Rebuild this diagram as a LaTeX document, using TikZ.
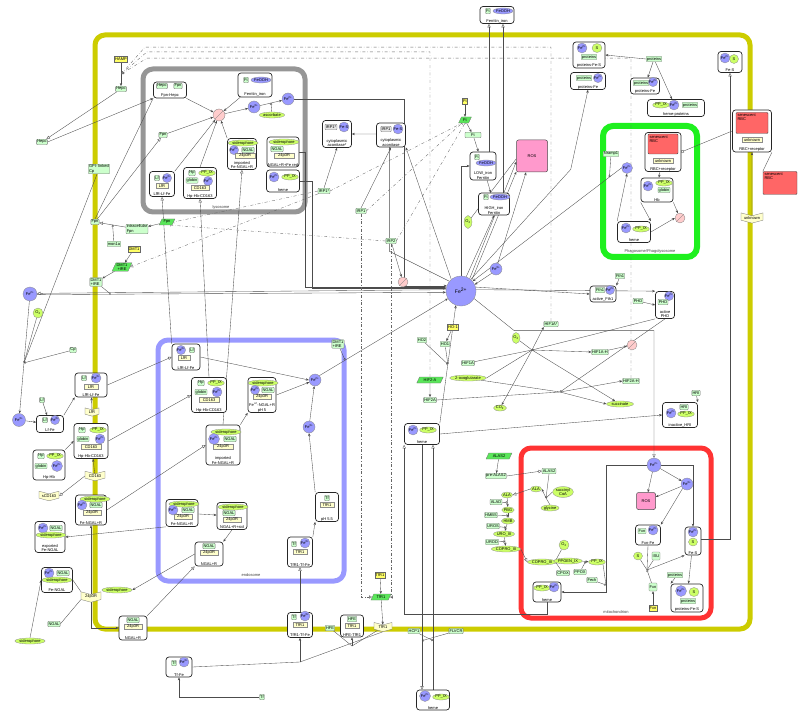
\documentclass[tikz,border=0pt]{standalone}
\usepackage{fontspec}
\setmainfont{Liberation Sans}
\usetikzlibrary{positioning, arrows.meta, shapes.geometric, shapes.symbols}
\definecolor{cellcol}{RGB}{204,204,0}
\definecolor{lysocol}{RGB}{150,150,150}
\definecolor{endocol}{RGB}{153,153,255}
\definecolor{phagocol}{RGB}{30,240,30}
\definecolor{mitocol}{RGB}{255,51,51}
\definecolor{protgreen}{RGB}{204,255,204}
\definecolor{geneyellow}{RGB}{255,255,102}
\definecolor{rnagreen}{RGB}{90,230,90}
\definecolor{recyellow}{RGB}{255,255,204}
\definecolor{ionblue}{RGB}{153,153,255}
\definecolor{simgreen}{RGB}{204,255,102}
\definecolor{degpink}{RGB}{255,204,204}
\definecolor{rospink}{RGB}{255,153,204}
\definecolor{rbcred}{RGB}{255,102,102}
\pgfdeclarelayer{bg}
\pgfdeclarelayer{edges}
\pgfsetlayers{bg,edges,main}

\begin{document}
\begin{tikzpicture}[
    x=1pt, y=-1pt,
    font=\fontsize{4}{4.4}\selectfont,
    comp/.style={line width=5pt, rounded corners=10pt},
    cname/.style={text=black!75},
    cplx/.style={draw=black!85, line width=0.7pt, rounded corners=3pt, fill=white, inner sep=0pt},
    clab/.style={anchor=south, inner sep=0.8pt, align=center},
    protein/.style={rectangle, draw=black!55, fill=protgreen, rounded corners=0.8pt, inner sep=0.7pt, minimum height=5.5pt, line width=0.3pt},
    gene/.style={rectangle, draw=black!60, fill=geneyellow, inner sep=0.8pt, minimum height=6.5pt, line width=0.3pt},
    rna/.style={trapezium, trapezium left angle=65, trapezium right angle=115, draw=black!55, fill=rnagreen, inner sep=0.6pt, minimum height=6pt, align=center, line width=0.3pt},
    receptor/.style={signal, signal from=north, signal to=south, signal pointer angle=150, draw=black!55, fill=recyellow, inner sep=0.7pt, minimum height=6.5pt, line width=0.3pt},
    recbox/.style={rectangle, draw=black!45, fill=recyellow, inner sep=0.6pt, minimum height=5pt, line width=0.3pt},
    ion/.style={circle, draw=black!45, fill=ionblue, inner sep=0pt, minimum size=10pt, line width=0.3pt},
    feooh/.style={ellipse, draw=black!45, fill=ionblue, inner sep=0.2pt, minimum height=6pt, line width=0.3pt},
    simple/.style={ellipse, draw=black!45, fill=simgreen, inner sep=0.2pt, minimum height=6pt, align=center, line width=0.3pt},
    degr/.style={circle, draw=black!50, fill=degpink, minimum size=12pt, inner sep=0pt, line width=0.3pt, path picture={\draw[black!55, line width=0.3pt] (path picture bounding box.south west) -- (path picture bounding box.north east);}},
    ros/.style={rectangle, rounded corners=2pt, draw=black!70, fill=rospink, line width=0.5pt},
    rbcbox/.style={rectangle, rounded corners=1pt, draw=black!70, fill=rbcred, inner sep=1.5pt, line width=0.4pt},
    rbctext/.style={anchor=north west, align=left, inner sep=1.5pt},
    arr/.style={-{Stealth[length=3pt, width=2.4pt]}, line width=0.35pt, draw=black!70},
    tr/.style={-{Triangle[open, length=3.5pt, width=3.2pt]}, line width=0.35pt, draw=black!70},
    sq/.style={-{Square[open, length=2.5pt, width=2.5pt]}, line width=0.35pt, draw=black!70},
    ln/.style={line width=0.35pt, draw=black!70},
    cat/.style={-{Circle[open, length=2.2pt]}, line width=0.35pt, draw=black!70},
    mod/.style={-{Triangle[open, length=3pt, width=3pt]}, line width=0.35pt, draw=black!60, dash dot},
    inh/.style={-{Bar[width=3pt]}, line width=0.35pt, draw=black!60, dash dot}
  ]
  \useasboundingbox (0,0) rectangle (800,719);

  \begin{pgfonlayer}{bg}
    \draw[comp, draw=cellcol] (95,35) rectangle (750,629);
    \draw[comp, draw=lysocol] (143,69) rectangle (305,212);
    \draw[comp, draw=endocol] (158,340) rectangle (344,581);
    \draw[comp, draw=phagocol, line width=6pt] (603,126) rectangle (697,257);
    \draw[comp, draw=mitocol] (521,448) rectangle (711,618);
  \end{pgfonlayer}
  \node[cname] (lysoName) at (221,207) {lysosome};
  \node[cname] (endoName) at (251,575) {endosome};
  \node[cname] (phagoName) at (650,251) {Phagosome/Phagolysosome};
  \node[cname] (mitoName) at (616,612) {mitochondrion};

  % outside, top
  \node[cplx, minimum width=34pt, minimum height=17pt, label={[clab]south:Ferritin\_iron}] (ftTop) at (497,15) {};
  \node[protein] (ftTopA) at (488,11) {Ft};
  \node[feooh] (ftTopB) at (503,11) {FeOOH};
  \node[gene] (hamp) at (121,59) {HAMP};
  \node[protein] (hepcIn) at (121,89) {Hepc};
  \node[protein] (hepcOut) at (42,142) {Hepc};

  % lysosome
  \node[cplx, minimum width=33pt, minimum height=16pt, label={[clab]south:Fpn-Hepc}] (fpnHepc) at (170,90) {};
  \node[protein] (fpnHepcA) at (162,86) {Hepc};
  \node[protein] (fpnHepcB) at (178,86) {Fpn};
  \node[cplx, minimum width=34pt, minimum height=24pt, label={[clab]south:Ferritin\_iron}] (ftLys) at (255,85) {};
  \node[protein] (ftLysA) at (246,80) {Ft};
  \node[feooh] (ftLysB) at (261,80) {FeOOH};
  \node[degr] (degL) at (219,115) {};
  \node[ion, minimum size=12pt] (fe3L) at (254,107) {Fe\textsuperscript{3+}};
  \node[ion, minimum size=12pt] (fe2L) at (288,99) {Fe\textsuperscript{2+}};
  \node[simple, minimum width=22pt] (ascL) at (272,115) {ascorbate};
  \node[protein] (fpnL) at (163,135) {Fpn};
  \node[cplx, minimum width=29pt, minimum height=31pt, label={[clab]south:{imported\\Fe-NGAL+R}}] (ngalL1) at (242,154) {};
  \node[simple, minimum width=24pt] (ngalL1A) at (243,143) {siderophore};
  \node[ion, minimum size=9pt] (ngalL1B) at (234,150) {Fe\textsuperscript{2+}};
  \node[protein] (ngalL1C) at (248,150) {NGAL};
  \node[recbox, minimum width=20pt] (ngalL1D) at (245,156) {24p3R};
  \node[cplx, minimum width=32pt, minimum height=30pt, label={[clab]south:NGAL+R+Fe red}] (ngalL2) at (283,152) {};
  \node[simple, minimum width=24pt] (ngalL2A) at (284,142) {siderophore};
  \node[protein] (ngalL2B) at (277,149) {NGAL};
  \node[recbox, minimum width=20pt] (ngalL2C) at (284,156) {24p3R};
  \node[cplx, minimum width=25pt, minimum height=25pt, label={[clab]south:LfR-Lf-Fe}] (lfL) at (162,184) {};
  \node[protein] (lfLA) at (157,178) {Lf};
  \node[ion, minimum size=9pt] (lfLB) at (167,178) {Fe\textsuperscript{3+}};
  \node[recbox, minimum width=12pt] (lfLC) at (162,186) {LfR};
  \node[cplx, minimum width=33pt, minimum height=31pt, label={[clab]south:Hp-Hb-CD163}] (hpL) at (200,183) {};
  \node[protein] (hpLA) at (192,173) {Hp};
  \node[simple, minimum width=13pt] (hpLB) at (207,173) {PP\_IX};
  \node[protein] (hpLC) at (192,180.5) {globin};
  \node[ion, minimum size=9pt] (hpLD) at (208,181) {Fe\textsuperscript{2+}};
  \node[recbox, minimum width=18pt] (hpLE) at (200,188) {CD163};
  \node[cplx, minimum width=33pt, minimum height=22pt, label={[clab]south:heme}] (hemeL) at (283,181) {};
  \node[ion] (hemeLA) at (274,177) {Fe\textsuperscript{2+}};
  \node[simple, minimum width=14pt] (hemeLB) at (290,177) {PP\_IX};

  % cell membrane, left
  \node[protein, align=left] (gpiCp) at (99,169) {GPI- linked\\Cp};
  \node[protein] (fpnM) at (95,222) {Fpn};
  \node[protein, align=left] (fpnI) at (137,229) {intracellular\\Fpn};
  \node[rna] (fpnR) at (167,222) {Fpn};
  \node[protein] (mon1a) at (114,244) {mon1a};
  \node[gene] (dmt1G) at (134,249) {DMT1};
  \node[rna] (dmt1R) at (122,267) {DMT1\\+IRE};
  \node[protein, align=left] (dmt1M) at (96,282) {DMT1\\+IRE};
  \node[ion, minimum size=14pt] (fe2Out) at (30,294) {Fe\textsuperscript{2+}};
  \node[simple, minimum width=10pt, minimum height=10pt] (o2a) at (38,313) {O\textsubscript{2}};
  \node[protein] (cp) at (73,350) {Cp};

  % cytosol, top
  \node[cplx, minimum width=29pt, minimum height=27pt, label={[clab]south:{cytoplasmic\\aconitase*}}] (acoS) at (337,134) {};
  \node[protein, fill=black!10] (acoSA) at (331,127) {IRP1*};
  \node[ion] (acoSB) at (344,127) {Fe-S};
  \node[cplx, minimum width=29pt, minimum height=24pt, label={[clab]south:{cytoplasmic\\aconitase}}] (aco) at (391,135) {};
  \node[protein, fill=black!10] (acoA) at (386,129) {IRP1};
  \node[ion] (acoB) at (398,129) {Fe-S};
  \node[gene] (ftG) at (465,101) {Ft};
  \node[rna] (ftR) at (465,120) {Ft};
  \node[protein, minimum width=16pt] (ftP) at (473,135) {Ft};
  \node[cplx, minimum width=26pt, minimum height=28pt, label={[clab]south:{LOW\_iron\\Ferritin}}] (ftLow) at (483,166) {};
  \node[protein] (ftLowA) at (477,157) {Ft};
  \node[feooh] (ftLowB) at (486,163) {FeOOH};
  \node[ros, minimum width=31pt, minimum height=32pt] (ros) at (532,156) {ROS};
  \node[cplx, minimum width=31pt, minimum height=22pt, label={[clab]south:{HIGH\_iron\\Ferritin}}] (ftHigh) at (494,204) {};
  \node[protein] (ftHighA) at (486,197) {Ft};
  \node[feooh] (ftHighB) at (500,197) {FeOOH};
  \node[simple, minimum width=7pt, minimum height=13pt] (o2b) at (468,222) {O\textsubscript{2}};
  \node[ion, minimum size=30pt, font=\fontsize{5}{5}\selectfont] (fe2Big) at (461,291) {Fe\textsuperscript{2+}};
  \node[ion, minimum size=12pt] (fe3C) at (496,269) {Fe\textsuperscript{3+}};
  \node[protein] (irp1s) at (324,191) {IRP1*};
  \node[protein] (irp1) at (361,211) {IRP1};
  \node[protein] (irp2) at (391,241) {IRP2};
  \node[degr, minimum size=10pt] (degI) at (403,282) {};

  % top right
  \node[cplx, minimum width=32pt, minimum height=26pt, label={[clab]south:proteins-Fe-S}] (protFeS) at (589,55) {};
  \node[ion] (protFeSA) at (582,48) {Fe\textsuperscript{2+}};
  \node[simple, minimum width=10pt, minimum height=9pt] (protFeSB) at (597,48) {S};
  \node[protein] (protFeSC) at (589,57) {proteins};
  \node[cplx, minimum width=35pt, minimum height=17pt, label={[clab]south:proteins-Fe}] (protFe) at (588,81) {};
  \node[protein] (protFeA) at (584,78) {proteins};
  \node[ion, minimum size=9pt] (protFeB) at (598,78) {Fe\textsuperscript{2+}};
  \node[protein] (prots) at (654,59) {proteins};
  \node[cplx, minimum width=29pt, minimum height=16pt, label={[clab]south:proteins-Fe}] (protFe2) at (645,86) {};
  \node[protein] (protFe2A) at (641,83) {proteins};
  \node[ion, minimum size=9pt] (protFe2B) at (653,82) {Fe\textsuperscript{2+}};
  \node[cplx, minimum width=57pt, minimum height=17pt, label={[clab]south:heme-proteins}] (hemeProt) at (676,108) {};
  \node[simple, minimum width=14pt] (hemeProtA) at (661,105) {PP\_IX};
  \node[ion] (hemeProtB) at (674,105) {Fe\textsuperscript{2+}};
  \node[protein] (hemeProtC) at (690,105) {proteins};
  \node[cplx, minimum width=24pt, minimum height=21pt, label={[clab]south:Fe-S}] (feS) at (730,62) {};
  \node[ion] (feSA) at (725,58) {Fe\textsuperscript{2+}};
  \node[simple, minimum width=9pt, minimum height=9pt] (feSB) at (734,59) {S};
  \node[cplx, minimum width=39pt, minimum height=42pt, label={[clab]south:RBC+receptor}] (rbcR) at (752,131) {};
  \node[rbcbox, minimum width=32pt, minimum height=21pt] (rbcRA) at (752,123) {};
  \node[rbctext] (rbcRT) at (rbcRA.north west) {senescent\\RBC};
  \node[recbox, minimum width=20pt] (rbcRB) at (752,140) {unknown};
  \node[rbcbox, minimum width=34pt, minimum height=23pt] (rbc) at (780,183) {};
  \node[rbctext] (rbcT) at (rbc.north west) {senescent\\RBC};
  \node[receptor, minimum width=22pt] (unk) at (752,218) {unknown};

  % phagosome
  \node[cplx, minimum width=36pt, minimum height=39pt, label={[clab]south:RBC+receptor}] (rbcP) at (663,152) {};
  \node[rbcbox, minimum width=30pt, minimum height=20pt] (rbcPA) at (663,144) {};
  \node[rbctext] (rbcPT) at (rbcPA.north west) {senescent\\RBC};
  \node[recbox, minimum width=20pt] (rbcPB) at (663,161) {unknown};
  \node[protein] (nramp) at (611,154) {Nramp1};
  \node[ion, minimum size=11pt] (fe2P) at (627,168) {Fe\textsuperscript{2+}};
  \node[cplx, minimum width=32pt, minimum height=24pt, label={[clab]south:Hb}] (hbP) at (657,190) {};
  \node[ion] (hbPA) at (648,186) {Fe\textsuperscript{2+}};
  \node[simple, minimum width=14pt] (hbPB) at (664,183) {PP\_IX};
  \node[protein] (hbPC) at (664,190) {globin};
  \node[degr, minimum size=10pt] (degP) at (680,218) {};
  \node[cplx, minimum width=33pt, minimum height=21pt, label={[clab]south:heme}] (hemeP) at (634,232) {};
  \node[ion] (hemePA) at (626,228) {Fe\textsuperscript{2+}};
  \node[simple, minimum width=15pt] (hemePB) at (641,229) {PP\_IX};

  % cytosol, right
  \node[protein] (fth1) at (620,276) {Fth1};
  \node[cplx, minimum width=26pt, minimum height=16pt, label={[clab]south:active\_Fth1}] (fth1A) at (603,294) {};
  \node[protein] (fth1AA) at (600,290) {Fth1};
  \node[ion, minimum size=9pt] (fth1AB) at (610,290) {Fe\textsuperscript{2+}};
  \node[protein] (phd) at (638,301) {PHD};
  \node[cplx, minimum width=19pt, minimum height=27pt, label={[clab]south:{active\\PHD}}] (phdA) at (665,305) {};
  \node[ion, minimum size=9pt] (phdAA) at (669,296) {Fe\textsuperscript{2+}};
  \node[protein] (phdAB) at (663,302) {PHD};
  \node[protein] (hif1s) at (551,324) {HIF1A*};
  \node[protein] (hif1h) at (600,352) {HIF1A-H};
  \node[degr, minimum size=10pt] (degH) at (632,345) {};
  \node[protein] (hif2h) at (631,381) {HIF2A-H};
  \node[simple, minimum width=27pt] (succ) at (620,404) {succinate};
  \node[protein] (hri) at (696,393) {HRI};
  \node[cplx, minimum width=35pt, minimum height=25pt, label={[clab]south:inactive\_HRI}] (hriI) at (680,415) {};
  \node[protein] (hriIA) at (684,407) {HRI};
  \node[ion] (hriIB) at (671,413) {Fe\textsuperscript{2+}};
  \node[simple, minimum width=14pt] (hriIC) at (686,414) {PP\_IX};

  % cytosol, middle
  \node[gene] (ho1g) at (453,327) {HO-1};
  \node[protein] (ho2) at (422,340) {HO2};
  \node[protein] (ho1) at (445,344) {HO1};
  \node[simple, minimum width=8pt, minimum height=11pt] (o2c) at (516,338) {O\textsubscript{2}};
  \node[protein, align=left] (dmt1E) at (338,344) {DMT1\\+IRE};
  \node[protein] (hif1) at (468,363) {HIF1A};
  \node[simple, minimum width=35pt] (oxo) at (468,378) {2-oxoglutarate};
  \node[simple, minimum width=13pt] (co2) at (500,408) {CO\textsubscript{2}};
  \node[rna] (hif2r) at (430,380) {HIF2-A};
  \node[protein] (hif2) at (430,400) {HIF2A};
  \node[cplx, minimum width=35pt, minimum height=21pt, label={[clab]south:heme}] (hemeC) at (422,434) {};
  \node[ion] (hemeCA) at (413,430) {Fe\textsuperscript{2+}};
  \node[simple, minimum width=15pt] (hemeCB) at (428,430) {PP\_IX};
  \node[rna] (alas2r) at (499,456) {ALAS2};
  \node[protein] (prealas) at (496,476) {pre-ALAS2};
  \node[simple] (ala) at (507,495) {ALA};
  \node[protein] (alad) at (496,502) {ALAD};
  \node[simple] (pbg) at (508,510) {PBG};
  \node[protein] (hmbs) at (491,515) {HMBS};
  \node[simple] (hmb) at (508,521) {HMB};
  \node[protein] (uros) at (493,526) {UROS};
  \node[simple] (uro) at (504,534) {URO\_III};
  \node[protein] (urod) at (492,542) {UROD};
  \node[simple] (copro) at (506,549) {COPRO\_III};

  % mitochondrion
  \node[protein] (alas2m) at (549,471) {ALAS2};
  \node[simple] (alaM) at (536,489) {ALA};
  \node[simple] (succoa) at (563,492) {succinyl\\CoA};
  \node[simple] (gly) at (550,508) {glycine};
  \node[ion, minimum size=14pt] (fe2M) at (654,465) {Fe\textsuperscript{2+}};
  \node[ion, minimum size=12pt] (fe3M) at (687,484) {Fe\textsuperscript{3+}};
  \node[ros, minimum width=19pt, minimum height=17pt] (rosM) at (646,501) {ROS};
  \node[cplx, minimum width=25pt, minimum height=20pt, label={[clab]south:Fxn-Fe}] (fxnFe) at (648,535) {};
  \node[protein] (fxnFeA) at (642,531) {Fxn};
  \node[ion] (fxnFeB) at (653,530) {Fe\textsuperscript{2+}};
  \node[cplx, minimum width=16pt, minimum height=28pt, label={[clab]south:Fe-S}] (feSM) at (693,541) {};
  \node[ion] (feSMA) at (693,532) {Fe\textsuperscript{2+}};
  \node[simple, minimum width=9pt, minimum height=8pt] (feSMB) at (693,542) {S};
  \node[simple, minimum width=10pt, minimum height=10pt] (o2M) at (564,545) {O\textsubscript{2}};
  \node[simple] (coproM) at (542,562) {COPRO\_III};
  \node[simple] (proto) at (568,561) {PPGEN\_IX};
  \node[simple] (ppix) at (597,562) {PP\_IX};
  \node[protein] (cpox) at (563,573) {CPOX};
  \node[protein] (ppox) at (580,572) {PPOX};
  \node[protein] (fech) at (592,580) {Fech};
  \node[cplx, minimum width=28pt, minimum height=20pt, label={[clab]south:heme}] (hemeM) at (547,592) {};
  \node[simple, minimum width=14pt] (hemeMA) at (542,588) {PP\_IX};
  \node[ion] (hemeMB) at (554,587) {Fe\textsuperscript{2+}};
  \node[simple, minimum width=9pt, minimum height=8pt] (sM) at (638,556) {S};
  \node[protein, minimum height=8pt] (isu) at (656,556) {ISU};
  \node[protein, minimum height=8pt] (fxn) at (653,587) {Fxn};
  \node[gene] (fxnG) at (653,608) {Fxn};
  \node[protein] (protM) at (675,575) {proteins};
  \node[cplx, minimum width=32pt, minimum height=28pt, label={[clab]south:proteins-Fe-S}] (protFeSM) at (687,598) {};
  \node[ion, minimum size=11pt] (protFeSMA) at (681,591) {Fe\textsuperscript{2+}};
  \node[simple, minimum width=10pt, minimum height=9pt] (protFeSMB) at (694,592) {S};
  \node[protein] (protFeSMC) at (688,601) {proteins};

  % outside, left
  \node[cplx, minimum width=32pt, minimum height=24pt, label={[clab]south:LfR-Lf-Fe}] (lfrM) at (91,385) {};
  \node[protein] (lfrMA) at (84,378) {Lf};
  \node[ion] (lfrMB) at (96,378) {Fe\textsuperscript{3+}};
  \node[recbox, minimum width=14pt] (lfrMC) at (91,387) {LfR};
  \node[protein] (lf) at (42,400) {Lf};
  \node[ion, minimum size=13pt] (fe3Out) at (19,420) {Fe\textsuperscript{3+}};
  \node[cplx, minimum width=27pt, minimum height=17pt, label={[clab]south:Lf-Fe}] (lfFe) at (50,424) {};
  \node[protein] (lfFeA) at (45,420) {Lf};
  \node[ion, minimum size=9pt] (lfFeB) at (55,420) {Fe\textsuperscript{3+}};
  \node[receptor, minimum width=14pt] (lfr) at (92,412) {LfR};
  \node[cplx, minimum width=34pt, minimum height=35pt, label={[clab]south:Hp-Hb-CD163}] (hpM) at (91,441) {};
  \node[protein] (hpMA) at (82,430) {Hp};
  \node[simple, minimum width=13pt] (hpMB) at (98,430) {PP\_IX};
  \node[protein] (hpMC) at (83,439) {globin};
  \node[ion] (hpMD) at (100,439) {Fe\textsuperscript{2+}};
  \node[recbox, minimum width=20pt] (hpME) at (91,447) {CD163};
  \node[cplx, minimum width=32pt, minimum height=30pt, label={[clab]south:Hp-Hb}] (hpHb) at (49,465) {};
  \node[protein] (hpHbA) at (41,456) {Hp};
  \node[simple, minimum width=13pt] (hpHbB) at (55,456) {PP\_IX};
  \node[protein] (hpHbC) at (41,466) {globin};
  \node[ion, minimum size=11pt] (hpHbD) at (57,466) {Fe\textsuperscript{2+}};
  \node[receptor, minimum width=20pt] (cd163) at (95,476) {CD163};
  \node[receptor, minimum width=20pt] (scd163) at (49,496) {sCD163};
  \node[cplx, minimum width=31pt, minimum height=30pt, label={[clab]south:Fe-NGAL+R}] (ngalM) at (91,510) {};
  \node[simple, minimum width=22pt] (ngalMA) at (95,499) {siderophore};
  \node[ion] (ngalMB) at (82,505) {Fe\textsuperscript{2+}};
  \node[protein] (ngalMC) at (96,505) {NGAL};
  \node[recbox, minimum width=18pt] (ngalMD) at (92,513) {24p3R};
  \node[cplx, minimum width=30pt, minimum height=31pt, label={[clab]south:{exported\\Fe-NGAL}}] (ngalEx) at (50,537) {};
  \node[ion] (ngalExA) at (43,528) {Fe\textsuperscript{2+}};
  \node[protein] (ngalExB) at (56,528) {NGAL};
  \node[simple, minimum width=22pt] (ngalExC) at (51,535) {siderophore};
  \node[cplx, minimum width=31pt, minimum height=25pt, label={[clab]south:Fe-NGAL}] (feNgal) at (57,580) {};
  \node[ion] (feNgalA) at (49,573) {Fe\textsuperscript{2+}};
  \node[protein] (feNgalB) at (63,573) {NGAL};
  \node[simple, minimum width=22pt] (feNgalC) at (57,580) {siderophore};
  \node[receptor, minimum width=20pt] (r24) at (91,597) {24p3R};
  \node[simple, minimum width=24pt] (sid1) at (117,590) {siderophore};
  \node[protein] (ngal) at (54,624) {NGAL};
  \node[simple, minimum width=26pt] (sid2) at (30,641) {siderophore};
  \node[cplx, minimum width=28pt, minimum height=24pt, label={[clab]south:NGAL+R}] (ngalRM) at (133,628) {};
  \node[protein] (ngalRMA) at (133,620) {NGAL};
  \node[recbox, minimum width=18pt] (ngalRMB) at (133,627) {24p3R};
  \node[cplx, minimum width=26pt, minimum height=20pt, label={[clab]south:Tf-Fe}] (tfFe) at (179,667) {};
  \node[protein] (tfFeA) at (174,663) {Tf};
  \node[ion] (tfFeB) at (184,662) {Fe\textsuperscript{3+}};
  \node[protein] (tf) at (262,697) {Tf};

  % endosome
  \node[cplx, minimum width=28pt, minimum height=26pt, label={[clab]south:LfR-Lf-Fe}] (lfrE) at (186,357) {};
  \node[ion, minimum size=9pt] (lfrEA) at (181,350) {Fe\textsuperscript{3+}};
  \node[protein] (lfrEB) at (192,350) {Lf};
  \node[recbox, minimum width=12pt] (lfrEC) at (184,358) {LfR};
  \node[cplx, minimum width=35pt, minimum height=35pt, label={[clab]south:Hp-Hb-CD163}] (hpE) at (209,395) {};
  \node[protein] (hpEA) at (201,383) {Hp};
  \node[simple, minimum width=13pt] (hpEB) at (216,383) {PP\_IX};
  \node[protein] (hpEC) at (201,392) {globin};
  \node[ion] (hpED) at (217,392) {Fe\textsuperscript{2+}};
  \node[recbox, minimum width=20pt] (hpEE) at (209,400) {CD163};
  \node[cplx, minimum width=28pt, minimum height=35pt, label={[clab]south:{Fe\textsuperscript{+2}-NGAL+R\\pH 5}}] (ngalE1) at (262,395) {};
  \node[simple, minimum width=22pt] (ngalE1A) at (263,383) {siderophore};
  \node[ion, minimum size=9pt] (ngalE1B) at (255,390) {Fe\textsuperscript{2+}};
  \node[protein] (ngalE1C) at (268,390) {NGAL};
  \node[recbox, minimum width=18pt] (ngalE1D) at (262,397) {24p3R};
  \node[cplx, minimum width=34pt, minimum height=40pt, label={[clab]south:{imported\\Fe-NGAL+R}}] (ngalE2) at (223,445) {};
  \node[simple, minimum width=24pt] (ngalE2A) at (226,432) {siderophore};
  \node[ion, minimum size=11pt] (ngalE2B) at (214,439) {Fe\textsuperscript{2+}};
  \node[protein] (ngalE2C) at (230,439) {NGAL};
  \node[recbox, minimum width=20pt] (ngalE2D) at (223,447) {24p3R};
  \node[cplx, minimum width=32pt, minimum height=27pt, label={[clab]south:Fe-NGAL+R}] (ngalE3) at (182,513) {};
  \node[simple, minimum width=24pt] (ngalE3A) at (184,504) {siderophore};
  \node[ion] (ngalE3B) at (173,510) {Fe\textsuperscript{2+}};
  \node[protein] (ngalE3C) at (188,510) {NGAL};
  \node[recbox, minimum width=18pt] (ngalE3D) at (183,517) {24p3R};
  \node[cplx, minimum width=30pt, minimum height=27pt, label={[clab]south:NGAL+R+sid}] (ngalE4) at (232,516) {};
  \node[simple, minimum width=22pt] (ngalE4A) at (233,507) {siderophore};
  \node[protein] (ngalE4B) at (229,513) {NGAL};
  \node[recbox, minimum width=18pt] (ngalE4C) at (232,520) {24p3R};
  \node[cplx, minimum width=28pt, minimum height=24pt, label={[clab]south:NGAL+R}] (ngalRE) at (209,554) {};
  \node[protein] (ngalREA) at (209,546) {NGAL};
  \node[recbox, minimum width=18pt] (ngalREB) at (209,553) {24p3R};
  \node[ion, minimum size=12pt] (fe2E) at (315,380) {Fe\textsuperscript{2+}};
  \node[ion, minimum size=12pt] (fe3E) at (309,427) {Fe\textsuperscript{3+}};
  \node[cplx, minimum width=23pt, minimum height=29pt, label={[clab]south:pH 5.5}] (tfrPH) at (327,507) {};
  \node[protein] (tfrPHA) at (327,498) {Tf};
  \node[recbox, minimum width=14pt] (tfrPHB) at (327,505) {TfR1};
  \node[cplx, minimum width=25pt, minimum height=30pt, label={[clab]south:TfR1-Tf-Fe}] (tfrE) at (300,552) {};
  \node[protein] (tfrEA) at (294,544) {Tf};
  \node[ion] (tfrEB) at (305,543) {Fe\textsuperscript{3+}};
  \node[recbox, minimum width=14pt] (tfrEC) at (300,552) {TfR1};

  % cell membrane, bottom
  \node[cplx, minimum width=25pt, minimum height=25pt, label={[clab]south:TfR1-Tf-Fe}] (tfrM) at (300,625) {};
  \node[protein] (tfrMA) at (294,617) {Tf};
  \node[ion] (tfrMB) at (305,616) {Fe\textsuperscript{3+}};
  \node[recbox, minimum width=14pt] (tfrMC) at (300,625) {TfR1};
  \node[protein] (hfe) at (330,628) {HFE};
  \node[cplx, minimum width=23pt, minimum height=22pt, label={[clab]south:HFE-TfR1}] (hfeTfr) at (352,626) {};
  \node[protein] (hfeTfrA) at (352,619) {HFE};
  \node[recbox, minimum width=14pt] (hfeTfrB) at (352,626) {TfR1};
  \node[receptor, minimum width=18pt] (tfr1M) at (383,627) {TfR1};
  \node[gene] (tfr1G) at (380,575) {TfR1};
  \node[rna] (tfr1R) at (381,597) {TfR1};
  \node[protein] (hcp1) at (414,631) {HCP1};
  \node[protein] (flvcr) at (456,631) {FLVCR};
  \node[cplx, minimum width=33pt, minimum height=20pt, label={[clab]south:heme}] (hemeOut) at (433,700) {};
  \node[ion, minimum size=11pt] (hemeOutA) at (425,696) {Fe\textsuperscript{2+}};
  \node[simple, minimum width=15pt] (hemeOutB) at (441,697) {PP\_IX};

  \begin{pgfonlayer}{edges}
    % hepcidin
    \draw[arr] (hamp) -- (hepcIn);
    \path (hamp) -- (hepcIn) coordinate[midway] (rHamp);
    \draw[tr] (hepcIn) -- (hepcOut);
    \draw[arr] (hepcOut.east) -- (fpnHepc.south west);
    \draw[ln] (fpnM.north) -- (fpnHepc.south west);
    \draw[mod] (hif1s.north) -- ++(0,-274) -- ++(-406,0) -- (rHamp);
    \draw[mod] (hif2r.north) -- ++(0,-325) -- ++(-283,0) -- (rHamp);
    \draw[mod] (hif2h.north) -- ++(0,-320) -- ++(-484,0) -- (rHamp);

    % lysosome
    \draw[arr] (fpnHepc) -- (degL);
    \draw[arr] (ftLys) -- (degL);
    \draw[arr] (fpnL) -- (degL);
    \draw[arr] (lfL.north east) -- (degL);
    \draw[arr] (hpL.north) -- (degL);
    \draw[arr] (ngalL1.north west) -- (degL);
    \draw[arr] (degL) -- (fe3L);
    \draw[arr] (fe3L) -- (fe2L);
    \path (fe3L) -- (fe2L) coordinate[midway] (rAsc);
    \draw[cat] (ascL) -- (rAsc);
    \draw[tr] (fpnM) -- (fpnL);
    \draw[tr] (lfrE.north west) -- (lfL.south);
    \draw[tr] (hpE.north) -- (hpL.south);
    \draw[tr] (ngalE2.north) -- (ngalL1.south);
    \draw[arr] (fe2L.east) -- ++(110,0) |- (fe2Big.160);
    \draw[arr] (hemeL.east) -- ++(12,0) |- (fe2Big.170);
    \draw[arr] (ngalL2.east) -- ++(6,0) |- (fe2Big.165);

    % membrane transport
    \draw[arr] (fpnR) -- (fpnI);
    \draw[tr] (fpnI) -- (fpnM);
    \path (fpnI) -- (fpnM) coordinate[midway] (rFpn);
    \draw[cat] (mon1a) -- (rFpn);
    \draw[arr] (dmt1G) -- (dmt1R);
    \draw[arr] (dmt1R) -- (dmt1M);
    \draw[tr] (fe2Big.175) -- (fe2Out.5);
    \draw[arr] (fe2Out.-5) -- (fe2Big.185);
    \path (fe2Out.-5) -- (fe2Big.185) coordinate[pos=0.18] (rDmt);
    \draw[cat] (dmt1M) -- (rDmt);
    \draw[arr] (fe2Out) -- (fe3Out);
    \path (fe2Out) -- (fe3Out) coordinate[pos=0.55] (rCp);
    \draw[cat] (cp) -- (rCp);
    \draw[cat] (gpiCp) -- (rCp);
    \draw[ln] (o2a) -- (rCp);

    % lactoferrin, haptoglobin
    \draw[arr] (fe3Out) -- (lfFe);
    \draw[arr] (lf) -- (lfFe);
    \draw[arr] (lfFe.north east) -- (lfrM.south west);
    \draw[arr] (lfr) -- (lfrM);
    \draw[tr] (lfrM.east) -- (lfrE.west);
    \draw[arr] (hpHb.north east) -- (hpM.west);
    \draw[arr] (cd163) -- (hpM);
    \draw[tr] (cd163.west) -- (scd163.east);
    \draw[tr] (hpM.east) -- (hpE.west);

    % NGAL
    \draw[tr] (ngalM.east) -- (ngalE2.west);
    \draw[arr] (ngalE3.south west) -- (ngalEx.east);
    \draw[ln] (feNgal.east) -- (r24.north west);
    \draw[arr] (r24.north) -- (ngalM.south);
    \draw[arr] (r24.south) |- (ngalRM.west);
    \draw[ln] (ngal.east) -- (r24.south west);
    \draw[arr] (sid2.north) -- (feNgal.west);
    \draw[tr] (ngalRM.north east) -- (ngalRE.south west);
    \draw[arr] (ngalRE.west) -- (sid1.east);
    \draw[arr] (ngalE2.north east) -- (ngalE1.south west);
    \draw[arr] (ngalE1.east) -- (fe2E);
    \draw[arr] (lfrE.east) -- (fe2E.west);
    \draw[arr] (ngalE3) -- (ngalE4);
    \draw[arr] (ngalE4.south) -- (ngalRE.north east);

    % transferrin
    \draw[arr] (tf.west) -| (tfFe.south);
    \coordinate (rTf) at (300,662);
    \draw[ln] (tfFe.east) -- (rTf);
    \draw[ln] (tfr1M.south) -- (rTf);
    \draw[arr] (rTf) -- (tfrM.south);
    \draw[tr] (tfrM.north) -- (tfrE.south);
    \draw[arr] (tfrE.north east) -- (tfrPH.south west);
    \draw[arr] (tfrPH.north west) -- (fe3E.south);
    \draw[arr] (fe3E) -- (fe2E);
    \draw[arr] (fe2E.north east) -- (fe2Big.210);
    \path (fe2E.north east) -- (fe2Big.210) coordinate[pos=0.2] (rDmtE);
    \draw[cat] (dmt1E) -- (rDmtE);
    \draw[arr] (tfr1G) -- (tfr1R);
    \draw[arr] (tfr1R) -- (tfr1M);
    \coordinate (rHfe) at (352,646);
    \draw[ln] (hfe) -- (rHfe);
    \draw[ln] (tfr1M) -- (rHfe);
    \draw[arr] (rHfe) -- (hfeTfr.south);

    % heme transport and breakdown
    \coordinate (hcIn) at ([xshift=11pt]hemeC.south);
    \draw[tr] (hemeC.south) -- (hemeC.south |- hemeOut.north);
    \draw[tr] (hcIn |- hemeOut.north) -- (hcIn);
    \path (hemeC.south) -- (hemeC.south |- hemeOut.north) coordinate[pos=0.8] (rFlv);
    \draw[cat] (flvcr) -- (rFlv);
    \path (hcIn |- hemeOut.north) -- (hcIn) coordinate[pos=0.2] (rHcp);
    \draw[cat] (hcp1) -- (rHcp);
    \draw[arr] (hemeC.north east) -- (fe2Big.250);
    \path (hemeC.north east) -- (fe2Big.250) coordinate[midway] (rHo);
    \draw[cat] (ho1) -- (rHo);
    \draw[cat] (ho2) -- (rHo);
    \draw[arr] (ho1g) -- (ho1);
    \draw[arr] (hemeC.east) -- (hriI.west);
    \draw[arr] (hri) -- (hriI.north east);

    % HIF
    \coordinate (rHif1) at (532,350);
    \draw[ln] (hif1) -- (rHif1);
    \draw[ln] (oxo.east) -- (rHif1);
    \draw[ln] (o2c) -- (rHif1);
    \draw[arr] (rHif1) -- (hif1h.west);
    \draw[arr] (rHif1) -- (succ);
    \draw[arr] (rHif1) -- (co2);
    \draw[arr] (rHif1) -- (hif1s.south west);
    \draw[cat] (phdA.south west) -- (rHif1);
    \draw[arr] (hif1h) -- (degH);
    \draw[arr] (hif2r) -- (hif2);
    \coordinate (rHif2) at (560,392);
    \draw[ln] (hif2.east) -- (rHif2);
    \draw[ln] (oxo.south east) -- (rHif2);
    \draw[arr] (rHif2) -- (hif2h.west);
    \draw[arr] (rHif2) -- (succ.west);
    \draw[cat] (phdA.south) -- (rHif2);
    \draw[arr] (phd) -- (phdA.west);
    \draw[arr] (fe2Big.5) -- (phdA.north west);
    \draw[arr] (fth1) -- (fth1A.north east);
    \draw[arr] (fe2Big.15) -- (fth1A.west);
    \draw[tr] (fe2Big.-30) -- ++(40,32) -| (fe2M.north);

    % ferritin, ROS
    \draw[arr] (ftG) -- (ftR);
    \draw[arr] (ftR) -- (ftP);
    \draw[arr] (ftP) -- (ftLow);
    \draw[arr] (ftLow) -- (ftHigh);
    \coordinate (ftLowTop) at ([xshift=6pt]ftLow.north);
    \coordinate (ftHighTop) at ([xshift=9pt]ftHigh.north);
    \draw[tr] (ftLowTop) -- (ftLowTop |- ftTop.south);
    \draw[tr] (ftHighTop) -- (ftHighTop |- ftTop.south);
    \draw[arr] (fe2Big.north) |- (ftLow.west);
    \draw[arr] (fe2Big.70) -- (ftHigh.south);
    \draw[arr] (fe2Big.55) -- (ros.200);
    \draw[arr] (fe2Big.45) -- (ros.225);
    \draw[arr] (fe3C) -- (ros.250);
    \draw[arr] (fe3C.south west) -- (fe2Big.25);
    \draw[ln] (o2b) -- (ros.190);

    % IRPs
    \draw[arr] (irp1s.north) -- (acoS.south);
    \draw[arr] (irp1.north) -- (aco.south);
    \draw[arr] (fe2Big.130) -- (aco.south east);
    \draw[arr] (fe2Big.140) -- ++(-60,-30) |- (acoS.east);
    \draw[arr] (irp2) -- (degI);
    \draw[inh] (irp1s.east) -- (ftR.south west);
    \draw[inh] (irp1.east) -- (ftR.south west);
    \draw[inh] (irp2.east) -- (ftR.south);
    \draw[inh] (irp1s.west) -- (fpnR.east);
    \draw[inh] (irp2.west) -- (fpnR.south east);
    \draw[mod] (irp1.south) |- (tfr1R.west);
    \draw[mod] (irp2.south) |- (tfr1R.east);
    \draw[mod] (irp1s.south west) -- (dmt1R.east);

    % heme synthesis
    \draw[arr] (alas2r) -- (prealas);
    \draw[tr] (prealas.east) -- (alas2m.west);
    \coordinate (rAla) at (546,498);
    \draw[ln] (succoa.west) -- (rAla);
    \draw[ln] (gly.north) -- (rAla);
    \draw[arr] (rAla) -- (alaM.east);
    \draw[cat] (alas2m.south) -- (rAla);
    \draw[tr] (alaM.west) -- (ala.east);
    \draw[arr] (ala) -- (pbg);
    \path (ala) -- (pbg) coordinate[midway] (rAlad);
    \draw[cat] (alad) -- (rAlad);
    \draw[arr] (pbg) -- (hmb);
    \path (pbg) -- (hmb) coordinate[midway] (rHmbs);
    \draw[cat] (hmbs) -- (rHmbs);
    \draw[arr] (hmb) -- (uro);
    \path (hmb) -- (uro) coordinate[midway] (rUros);
    \draw[cat] (uros) -- (rUros);
    \draw[arr] (uro) -- (copro);
    \path (uro) -- (copro) coordinate[midway] (rUrod);
    \draw[cat] (urod) -- (rUrod);
    \draw[tr] (copro.east) -- (coproM.west);
    \draw[arr] (coproM) -- (proto);
    \path (coproM) -- (proto) coordinate[midway] (rCpox);
    \draw[cat] (cpox) -- (rCpox);
    \draw[ln] (o2M) -- (rCpox);
    \draw[arr] (proto) -- (ppix);
    \path (proto) -- (ppix) coordinate[midway] (rPpox);
    \draw[cat] (ppox) -- (rPpox);
    \coordinate (rFech) at (606,585);
    \draw[ln] (ppix.south east) -- (rFech);
    \draw[ln] (fe2M.west) -| (rFech);
    \draw[arr] (rFech) |- (hemeM.east);
    \draw[cat] (fech) -- (rFech);
    \draw[tr] (hemeM.south) -- ++(0,12) -| (hemeC.south west);

    % mitochondrial iron
    \draw[arr] (fe2M) -- (fe3M);
    \draw[arr] (fe3M) -- (rosM);
    \draw[arr] (fe2M) -- (rosM);
    \draw[arr] (fe3M.south west) -- (fxnFe.north east);
    \draw[arr] (fe2M.east) -| (feSM.north);
    \coordinate (rIsc) at (647,570);
    \draw[ln] (sM) -- (rIsc);
    \draw[ln] (isu) -- (rIsc);
    \draw[ln] (fxnFe.south) -- (rIsc);
    \draw[arr] (rIsc) -- (feSM.south west);
    \draw[cat] (fxn) -- (rIsc);
    \draw[arr] (fxnG) -- (fxn);
    \draw[arr] (feSM) -- (protFeSM);
    \draw[arr] (protM.south) -- (protFeSM.north west);
    \draw[tr] (feSM.15) -| (feS.south);

    % senescent RBC
    \draw[ln] (rbc.north west) -- (rbcR.south east);
    \draw[arr] (unk) -- (rbcR);
    \draw[sq] (rbcR.west) -- (rbcP.east);
    \draw[arr] (rbcP) -- (hbP);
    \draw[arr] (hbP.south east) -- (degP);
    \draw[arr] (hemeP.east) -- (degP.west);
    \draw[arr] (hbP.south west) -- (hemeP.north east);
    \draw[arr] (hemeP.north west) -- (fe2P.south);
    \draw[arr] (fe2P.west) -- (fe2Big.40);
    \path (fe2P.west) -- (fe2Big.40) coordinate[pos=0.08] (rNr);
    \draw[cat] (nramp) -- (rNr);

    % proteins
    \draw[arr] (prots.west) -- (protFeS.east);
    \draw[arr] (prots) -- (protFe2);
    \draw[arr] (prots) -- (hemeProt);
    \draw[arr] (fe2Big.50) -- ++(100,-110) -- (protFe.south);
  \end{pgfonlayer}
\end{tikzpicture}
\end{document}
